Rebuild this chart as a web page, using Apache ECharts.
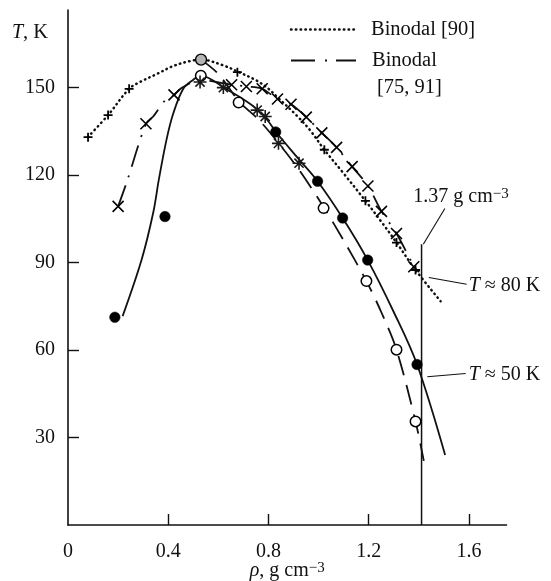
<!DOCTYPE html>
<html><head><meta charset="utf-8">
<script src="https://cdn.jsdelivr.net/npm/echarts@6/dist/echarts.min.js"></script>
<style>html,body{margin:0;padding:0;background:#fff}#c{width:551px;height:581px}</style>
</head><body><div id="c"></div>
<script>
// ---- data (rho in g cm^-3, T in K) ----
const xTickValues = [0.4, 0.8, 1.2, 1.6];
const xLabelValues = [0, 0.4, 0.8, 1.2, 1.6];
const yTickValues = [30, 60, 90, 120, 150];

const binodal90Line = [[0.08,133],[0.16,140.5],[0.244,149.5],[0.287,151.8],[0.353,154.5],[0.42,157.3],[0.487,159],[0.531,159.5],[0.62,157.5],[0.687,155],[0.753,152.3],[0.8,149.5],[0.837,146.5],[0.913,140.3],[0.967,135.2],[1.023,128.6],[1.1,120.5],[1.187,111.1],[1.25,104],[1.311,96.8],[1.387,87.4],[1.487,76.7]];
const binodal7591Line = [[0.2,109.2],[0.234,117.4],[0.311,137.5],[0.34,140],[0.387,145.5],[0.423,147.4],[0.454,149.8],[0.527,152.5],[0.653,150.9],[0.712,150.3],[0.775,149.5],[0.836,146],[0.89,144.2],[0.951,139.8],[1.013,134.4],[1.072,129.4],[1.134,122.8],[1.197,116.2],[1.251,107.5],[1.311,99.9],[1.387,87.4]];
const solidLine = [[0.218,71.6],[0.294,91],[0.34,107],[0.363,118.6],[0.393,132],[0.42,141],[0.46,149.5],[0.5,152.6],[0.53,154],[0.574,152.6],[0.62,150],[0.687,146.6],[0.753,142.6],[0.8,138.3],[0.83,134.7],[0.92,125.5],[0.996,117.8],[1.096,105.2],[1.196,90.8],[1.3,73],[1.393,55],[1.505,24]];
const dashedLine = [[0.531,159.5],[0.6,154.6],[0.684,145],[0.76,139],[0.843,130.6],[0.924,121.5],[1.02,109],[1.1,97.5],[1.191,83.6],[1.25,73],[1.311,60.1],[1.387,35.5],[1.42,22]];

const plusMarks = [[0.08,132.9],[0.16,140.5],[0.244,149.5],[0.676,155.2],[1.023,128.6],[1.187,111.1],[1.311,96.8],[1.387,87.4]];
const crossMarks = [[0.2,109.2],[0.311,137.5],[0.423,147.4],[0.653,150.9],[0.712,150.3],[0.775,149.5],[0.836,146],[0.89,144.2],[0.951,139.8],[1.013,134.4],[1.072,129.4],[1.134,122.8],[1.197,116.2],[1.251,107.5],[1.311,99.9],[1.38,88.5]];
const asteriskMarks = [[0.527,151.8],[0.62,149.9],[0.755,142.2],[0.787,140],[0.84,130.8],[0.922,124]];
const filledCircles = [[0.187,71.2],[0.387,105.7],[0.829,134.7],[0.996,117.8],[1.096,105.2],[1.196,90.8],[1.393,55]];
const openCircles = [[0.53,154],[0.681,144.8],[1.02,108.6],[1.191,83.6],[1.311,60.1],[1.387,35.5]];
const grayCircles = [[0.531,159.5]];

const densityLine = [[1.411,0],[1.411,96.2]];
const leader137 = [[1.504,108.5],[1.418,96.2]];
const leader80 = [[1.44,84.8],[1.591,82.5]];
const leader50 = [[1.434,50.8],[1.587,51.9]];
const annoTexts = [
  {pos:[1.378,112.4], text:'1.37 g cm{sup|−3}'},
  {pos:[1.599,82.1], text:'{i|T} ≈ 80 K'},
  {pos:[1.599,51.5], text:'{i|T} ≈ 50 K'}
];

// ---- styling ----
const FONT = 'Liberation Serif';
const INK = '#111';
const PLUS = 'path://M0,-10L0,10M-10,0L10,0';
const CROSS = 'path://M-10,-10L10,10M-10,10L10,-10';
const AST = 'path://M0,-10L0,10M-10,0L10,0M-7.07,-7.07L7.07,7.07M-7.07,7.07L7.07,-7.07';
const richBase = {
  i: {fontFamily: FONT, fontSize: 20, fontStyle: 'italic', color: INK},
  sup: {fontFamily: FONT, fontSize: 15, color: INK, verticalAlign: 'top', lineHeight: 10, padding: [0,0,16,0]}
};

function lineSeries(data, style, smooth) {
  return {type:'line', data, symbol:'none', smooth: smooth, silent:true,
    lineStyle: Object.assign({color: INK, width: 1.8, opacity: 1}, style), z: 2};
}
function markSeries(data, symbol, size, itemStyle, z) {
  return {type:'scatter', data, symbol, symbolSize:size, silent:true,
    itemStyle: Object.assign({opacity: 1}, itemStyle), z: z || 4};
}

const option = {
  animation: false,
  backgroundColor: '#fff',
  grid: {left: 68, right: 44.5, top: 10, bottom: 56, containLabel: false, outerBoundsMode: 'none'},
  xAxis: {
    type:'value', min:0, max:1.75,
    axisLine:{lineStyle:{color:INK, width:1.6}},
    splitLine:{show:false},
    axisTick:{inside:true, length:11, lineStyle:{color:INK, width:1.4}, customValues: xTickValues},
    axisLabel:{customValues: xLabelValues, margin:17, fontFamily:FONT, fontSize:20, color:INK,
      formatter: v => String(v)},
    name:'{i|ρ}, g cm{sup|−3}', nameLocation:'middle', nameGap:36, nameMoveOverlap:false,
    nameTextStyle:{fontFamily:FONT, fontSize:20, color:INK, rich: richBase}
  },
  yAxis: {
    type:'value', min:0, max:176.5,
    axisLine:{lineStyle:{color:INK, width:1.6}},
    splitLine:{show:false},
    axisTick:{inside:true, length:11, lineStyle:{color:INK, width:1.4}, customValues: yTickValues},
    axisLabel:{customValues: yTickValues, margin:13, fontFamily:FONT, fontSize:20, color:INK}
  },
  series: [
    lineSeries(binodal90Line, {type:[0.5,4.3], cap:'round', width:2.5}, 0.35),
    lineSeries(binodal7591Line, {type:[22,9,2,9]}, 0.3),
    lineSeries(solidLine, {}, 0.35),
    lineSeries(dashedLine, {type:[20,10]}, 0.3),
    lineSeries(densityLine, {width:1.5}, false),
    lineSeries(leader137, {width:1.1}, false),
    lineSeries(leader80, {width:1.1}, false),
    lineSeries(leader50, {width:1.1}, false),
    markSeries(plusMarks, PLUS, 9, {color:'#000', borderColor:'#000', borderWidth:1.8}),
    markSeries(crossMarks, CROSS, 11, {color:'#000', borderColor:'#000', borderWidth:1.6}),
    markSeries(openCircles, 'circle', 10.5, {color:'#fff', borderColor:'#000', borderWidth:1.5}, 5),
    markSeries(grayCircles, 'circle', 11, {color:'#b4b4b4', borderColor:'#000', borderWidth:1.4}, 5),
    markSeries(asteriskMarks, AST, 13, {color:'#000', borderColor:'#1a1a1a', borderWidth:1.6}, 6),
    markSeries(filledCircles, 'circle', 10.5, {color:'#000', borderColor:'#000', borderWidth:0.5}, 6)
  ]
};

const chart = echarts.init(document.getElementById('c'), null, {renderer:'canvas'});
chart.setOption(option);

const graphics = [];
// y axis name
graphics.push({type:'text', x:12, y:33, style:{text:'{i|T}, K', rich: richBase,
  fontFamily:FONT, fontSize:20.5, fill:INK, verticalAlign:'middle', align:'left'}});
// legend
graphics.push({type:'line', shape:{x1:291, y1:29.5, x2:355, y2:29.5},
  style:{stroke:INK, lineWidth:2.5, lineDash:[0.5,4.3], lineCap:'round'}});
graphics.push({type:'text', x:371, y:30, style:{text:'Binodal [90]', fontFamily:FONT, fontSize:20.5,
  fill:INK, verticalAlign:'middle', align:'left'}});
graphics.push({type:'line', shape:{x1:291, y1:60.5, x2:356, y2:60.5},
  style:{stroke:INK, lineWidth:1.9, lineDash:[24,10,2,9]}});
graphics.push({type:'text', x:372, y:61, style:{text:'Binodal', fontFamily:FONT, fontSize:20.5,
  fill:INK, verticalAlign:'middle', align:'left'}});
graphics.push({type:'text', x:377, y:87.5, style:{text:'[75, 91]', fontFamily:FONT, fontSize:20.5,
  fill:INK, verticalAlign:'middle', align:'left'}});
// annotations anchored in data coordinates
annoTexts.forEach(a => {
  const p = chart.convertToPixel({gridIndex:0}, a.pos);
  graphics.push({type:'text', x:p[0], y:p[1], style:{text:a.text, rich: richBase,
    fontFamily:FONT, fontSize:20, fill:INK, verticalAlign:'middle', align:'left'}});
});
chart.setOption({graphic: graphics});
</script></body></html>
